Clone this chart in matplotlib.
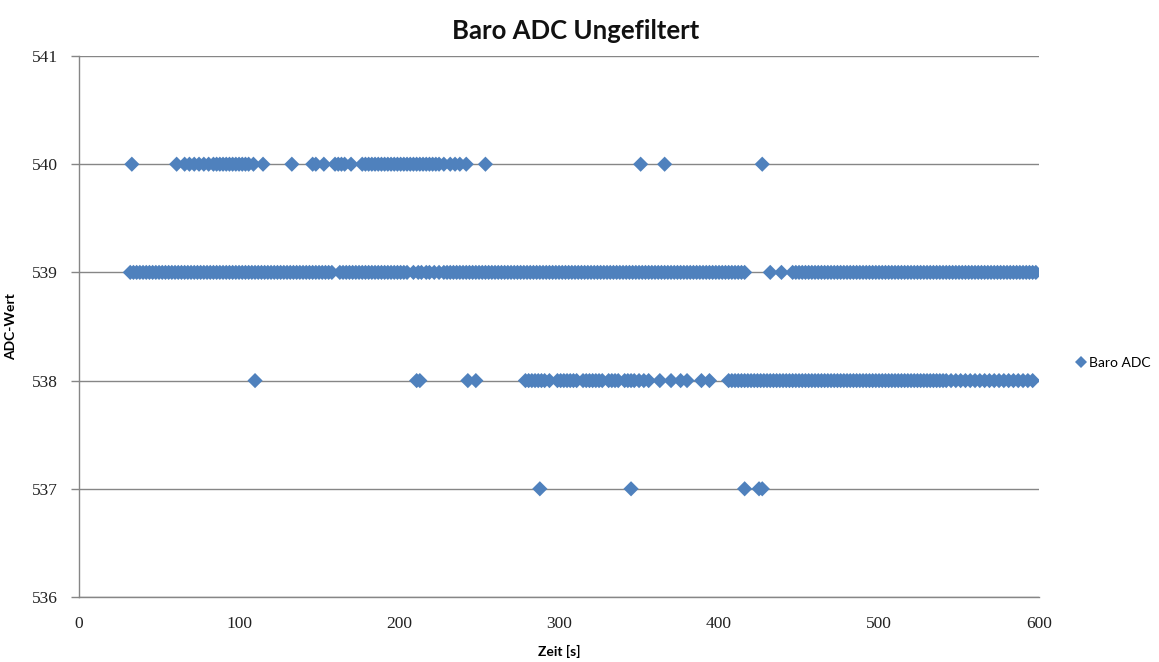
import matplotlib
matplotlib.use("Agg")
import matplotlib.pyplot as plt
from matplotlib.lines import Line2D

# Sample times (s) at which the barometer ADC read each level
t_540 = [33, 61, 66, 69, 72, 75, 78, 81, 84, 86, 88, 90, 92, 94, 96, 98, 100,
         102, 104, 106, 109, 115, 133, 146, 148, 153, 160, 162, 164, 166, 170,
         177, 179, 181, 183, 185, 187, 189, 191, 193, 195, 197, 199, 201, 203,
         205, 207, 209, 211, 213, 215, 217, 219, 221, 223, 225, 228, 232, 235,
         238, 242, 254, 351, 366, 427]

t_539 = [32, 34, 36, 38, 40, 42, 44, 46, 48, 50, 52, 54, 56, 58, 60, 62, 64,
         66, 68, 70, 72, 74, 76, 78, 80, 82, 84, 86, 88, 90, 92, 94, 96, 98,
         100, 102, 104, 106, 108, 110, 112, 114, 116, 118, 120, 122, 124, 126,
         128, 130, 132, 134, 136, 138, 140, 142, 144, 146, 148, 150, 152, 154,
         156, 158, 163, 165, 167, 169, 171, 173, 175, 177, 179, 181, 183, 185,
         187, 189, 191, 193, 195, 197, 199, 201, 203, 205, 209, 212, 214, 217,
         219, 222, 225, 228, 230, 232, 234, 236, 238, 240, 242, 244, 246, 248,
         250, 252, 254, 256, 258, 260, 262, 264, 266, 268, 270, 272, 274, 276,
         278, 280, 282, 284, 286, 288, 290, 292, 294, 296, 298, 300, 302, 304,
         306, 308, 310, 312, 314, 316, 318, 320, 322, 324, 326, 328, 330, 332,
         334, 336, 338, 340, 342, 344, 346, 348, 350, 352, 354, 356, 358, 360,
         362, 364, 366, 368, 370, 372, 374, 376, 378, 380, 382, 384, 386, 388,
         390, 392, 394, 396, 398, 400, 402, 404, 406, 408, 410, 412, 414, 416,
         432, 439, 446, 448, 450, 452, 454, 456, 458, 460, 462, 464, 466, 468,
         470, 472, 474, 476, 478, 480, 482, 484, 486, 488, 490, 492, 494, 496,
         498, 500, 502, 504, 506, 508, 510, 512, 514, 516, 518, 520, 522, 524,
         526, 528, 530, 532, 534, 536, 538, 540, 542, 544, 546, 548, 550, 552,
         554, 556, 558, 560, 562, 564, 566, 568, 570, 572, 574, 576, 578, 580,
         582, 584, 586, 588, 590, 592, 594, 596, 598]

t_538 = [110, 211, 213, 243, 248, 279, 281, 283, 285, 287, 289, 291, 294, 299,
         301, 303, 305, 307, 309, 311, 315, 317, 319, 321, 323, 325, 327, 331,
         333, 335, 337, 341, 343, 345, 347, 350, 353, 356, 363, 370, 376, 380,
         389, 394, 406, 408, 410, 412, 414, 416, 418, 420, 422, 424, 426, 428,
         430, 432, 434, 436, 438, 440, 442, 444, 446, 448, 450, 452, 454, 456,
         458, 460, 462, 464, 466, 468, 470, 472, 474, 476, 478, 480, 482, 484,
         486, 488, 490, 492, 494, 496, 498, 500, 502, 504, 506, 508, 510, 512,
         514, 516, 518, 520, 522, 524, 526, 528, 530, 532, 534, 536, 538, 540,
         542, 545, 548, 551, 554, 557, 560, 563, 566, 569, 572, 575, 578, 581,
         584, 587, 590, 593, 596]

t_537 = [288, 345, 416, 425, 427]

levels = {540: t_540, 539: t_539, 538: t_538, 537: t_537}

x_ticks = [0, 100, 200, 300, 400, 500, 600]
y_ticks = [536, 537, 538, 539, 540, 541]

title = "Baro ADC Ungefiltert"
x_label = "Zeit [s]"
y_label = "ADC-Wert"
series_name = "Baro ADC"

blue = "#4F81BD"
grey = "#868686"

fig = plt.figure(figsize=(11.59, 6.62), dpi=100)
ax = fig.add_axes([0.0682, 0.0982, 0.8283, 0.8172])

for level, times in levels.items():
    ax.scatter(times, [level] * len(times), marker="D", s=60, color=blue,
               edgecolors="none", zorder=3)

ax.set_xlim(0, 600)
ax.set_ylim(536, 541)
ax.set_xticks(x_ticks)
ax.set_yticks(y_ticks)
ax.grid(axis="y", color=grey, linewidth=1.0)
ax.set_axisbelow(True)

for side in ("top", "right"):
    ax.spines[side].set_visible(False)
for side in ("left", "bottom"):
    ax.spines[side].set_color(grey)
    ax.spines[side].set_linewidth(1.0)

ax.tick_params(axis="y", length=6, color=grey, width=1.0, pad=9)
ax.tick_params(axis="x", length=0, pad=14)
for lbl in ax.get_xticklabels() + ax.get_yticklabels():
    lbl.set_fontfamily("Liberation Serif")
    lbl.set_fontsize(12.5)
    lbl.set_color("#222222")

fig.text(0.497, 0.953, title, ha="center", va="center", fontsize=18.5,
         fontweight="bold", family="Lato", color="#111111")
ax.set_xlabel(x_label, fontsize=10, fontweight="bold", family="Lato",
              labelpad=9)
ax.set_ylabel(y_label, fontsize=10, fontweight="bold", family="Lato",
              labelpad=11)

handle = Line2D([], [], linestyle="none", marker="D", markersize=6.5,
                color=blue, markeredgewidth=0)
fig.legend([handle], [series_name], loc="center left",
           bbox_to_anchor=(0.927, 0.452), frameon=False, handlelength=0.6,
           handletextpad=0.25, borderpad=0.2, borderaxespad=0.0,
           prop={"family": "Lato", "size": 10})

fig.savefig("out.png", dpi=100)
